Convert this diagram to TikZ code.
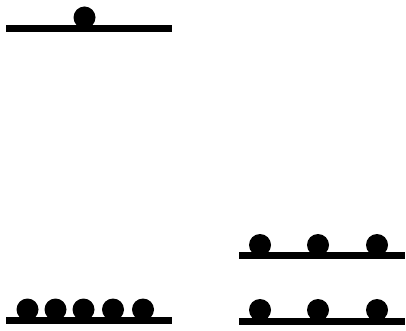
\documentclass[tikz,border=0pt]{standalone}
\begin{document}
\begin{tikzpicture}[x=1pt,y=-1pt,
  bar/.style={line width=7pt},
  ball/.style={circle,fill=black,inner sep=0pt,minimum size=22pt}]
\useasboundingbox (0,0) rectangle (406,331);
% top-left
\coordinate (a1) at (6,28.5); \coordinate (a2) at (172,28.5);
\draw[bar] (a1) -- (a2);
\node[ball] (ta) at (84.5,17.5) {};
% bottom-left
\coordinate (b1) at (6,320.5); \coordinate (b2) at (172,320.5);
\draw[bar] (b1) -- (b2);
\foreach \x/\n in {27.5/1,55.5/2,83.5/3,113/4,143/5} \node[ball] (bl\n) at (\x,309.5) {};
% right upper
\coordinate (c1) at (239,255.5); \coordinate (c2) at (405,255.5);
\draw[bar] (c1) -- (c2);
\foreach \x/\n in {260/1,318/2,377/3} \node[ball] (ru\n) at (\x,245) {};
% right lower
\coordinate (d1) at (239,321); \coordinate (d2) at (405,321);
\draw[bar] (d1) -- (d2);
\foreach \x/\n in {260/1,318/2,377/3} \node[ball] (rl\n) at (\x,310) {};
\end{tikzpicture}
\end{document}
